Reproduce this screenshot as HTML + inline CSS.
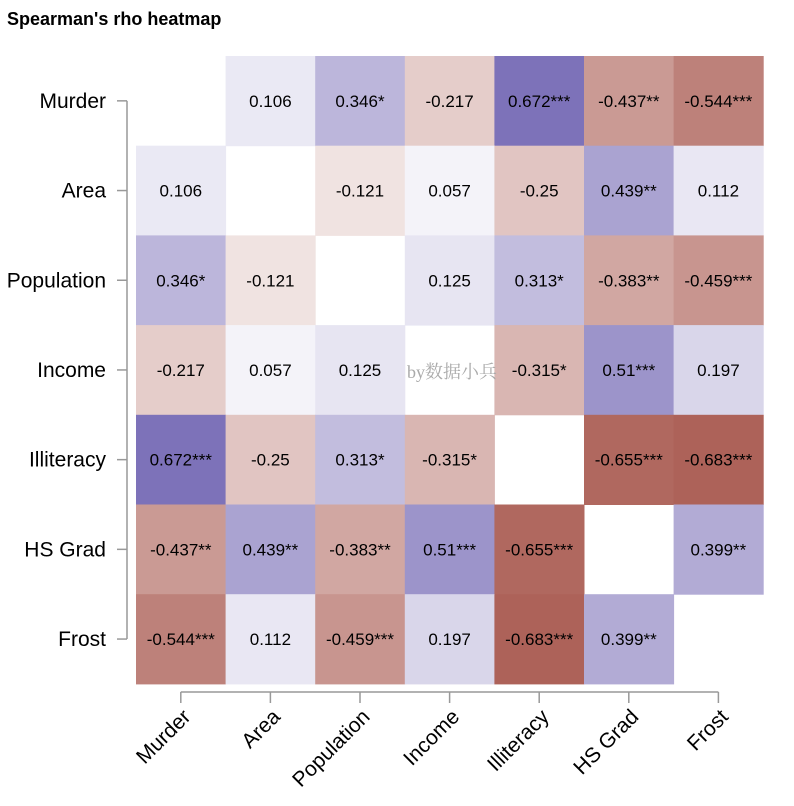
<!DOCTYPE html>
<html><head><meta charset="utf-8"><style>
body{margin:0;background:#fff;}
svg text{font-family:"Liberation Sans",sans-serif;}
</style></head><body>
<svg id="chart" width="794" height="801" xmlns="http://www.w3.org/2000/svg">
<text x="7" y="25" font-size="18" font-weight="bold" fill="#000">Spearman's rho heatmap</text>
<g id="cells"></g>
<g id="axes"></g>
<text x="407" y="378" font-size="18" fill="#aaa" style="font-family:'Liberation Serif','Noto Serif CJK SC',serif">by数据小兵</text>
</svg>
<script>
const labels=["Murder","Area","Population","Income","Illiteracy","HS Grad","Frost"];
const rho=[
[null,0.106,0.346,-0.217,0.672,-0.437,-0.544],
[0.106,null,-0.121,0.057,-0.25,0.439,0.112],
[0.346,-0.121,null,0.125,0.313,-0.383,-0.459],
[-0.217,0.057,0.125,null,-0.315,0.51,0.197],
[0.672,-0.25,0.313,-0.315,null,-0.655,-0.683],
[-0.437,0.439,-0.383,0.51,-0.655,null,0.399],
[-0.544,0.112,-0.459,0.197,-0.683,0.399,null]];
const stars=[
["","","*","","***","**","***"],
["","","","","","**",""],
["*","","","","*","**","***"],
["","","","","*","***",""],
["***","","*","*","","***","***"],
["**","**","**","***","***","","**"],
["***","","***","","***","**",""]];
const x0=136,y0=56,cw=89.6,ch=89.7;
const xs=i=>x0+i*cw, ys=j=>y0+j*ch;
function col(r){
  const pos=[123,112,184],neg=[173,98,89];
  const e=r>=0?pos:neg;const f=Math.min(1,Math.abs(r)/0.68);
  return `rgb(${e.map(c=>Math.round(255-f*(255-c))).join(',')})`;
}
const NS="http://www.w3.org/2000/svg";
const g=document.getElementById('cells');
rho.forEach((row,j)=>row.forEach((v,i)=>{
  if(v===null)return;
  const r=document.createElementNS(NS,'rect');
  
  
  r.setAttribute('x',xs(i));r.setAttribute('y',ys(j));
  r.setAttribute('width',cw+0.5);r.setAttribute('height',ch+0.5);
  r.setAttribute('fill',col(v));g.appendChild(r);
  const t=document.createElementNS(NS,'text');
  
  
  t.setAttribute('x',xs(i)+cw/2);t.setAttribute('y',ys(j)+ch/2+6);
  t.setAttribute('text-anchor','middle');t.setAttribute('font-size','17');
  t.textContent=String(v)+stars[j][i];g.appendChild(t);
}));
const a=document.getElementById('axes');
function line(x1,y1,x2,y2){const l=document.createElementNS(NS,'line');


l.setAttribute('x1',x1);l.setAttribute('y1',y1);l.setAttribute('x2',x2);l.setAttribute('y2',y2);
l.setAttribute('stroke','#999');l.setAttribute('stroke-width','1.5');a.appendChild(l);}
const n=labels.length;
line(127,ys(0)+ch/2,127,ys(n-1)+ch/2);
line(xs(0)+cw/2,692,xs(n-1)+cw/2,692);
labels.forEach((lb,k)=>{
  const cy=ys(k)+ch/2, cx=xs(k)+cw/2;
  line(117,cy,127,cy);line(cx,692,cx,703);
  const t=document.createElementNS(NS,'text');
  
  
  t.setAttribute('x',106);t.setAttribute('y',cy+7);t.setAttribute('text-anchor','end');
  t.setAttribute('font-size','21');t.textContent=lb;a.appendChild(t);
  const u=document.createElementNS(NS,'text');
  
  
  u.setAttribute('text-anchor','end');u.setAttribute('font-size','21');
  u.setAttribute('transform',`translate(${cx+11},${718}) rotate(-45)`);
  u.textContent=lb;a.appendChild(u);
});
</script>
</body></html>
